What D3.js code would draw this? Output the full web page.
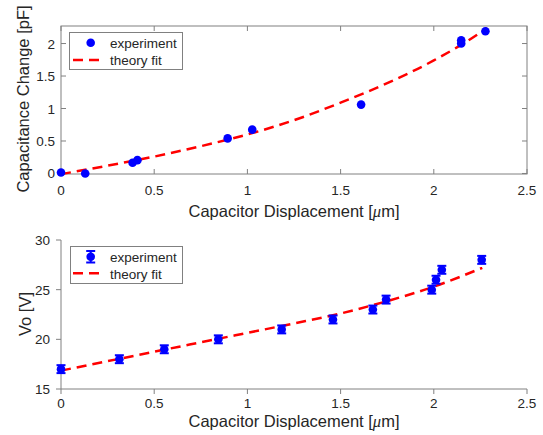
<!DOCTYPE html>
<html><head><meta charset="utf-8">
<script src="https://cdn.jsdelivr.net/npm/d3@7"></script>
<style>
body{margin:0;background:#fff;}
text{font-family:"Liberation Sans",Arial,Helvetica,sans-serif;fill:#262626;}
</style></head>
<body><svg id="c" width="543" height="435"></svg>
<script>
// ---- data ----
const xTicks = [0, 0.5, 1, 1.5, 2, 2.5];
const capTicks = [0, 0.5, 1, 1.5, 2];
const voTicks = [15, 20, 25, 30];

const capX = [0, 0.13, 0.384, 0.41, 0.894, 1.026, 1.61, 2.147, 2.147, 2.277];
const capY = [0.015, 0.0, 0.165, 0.205, 0.54, 0.675, 1.06, 2.0, 2.05, 2.19];
const capFitX = [0, 0.25, 0.5, 0.75, 1.0, 1.25, 1.5, 1.75, 2.0, 2.25, 2.285];
const capFitY = [-0.01, 0.12, 0.26, 0.42, 0.60, 0.82, 1.09, 1.39, 1.74, 2.17, 2.24];

const voX = [0, 0.313, 0.554, 0.844, 1.184, 1.459, 1.673, 1.744, 1.989, 2.012, 2.043, 2.257];
const voY = [17, 18, 19, 20, 21, 22, 23, 24, 25, 26, 27, 28];
const voErr = [0.4, 0.4, 0.4, 0.4, 0.4, 0.4, 0.4, 0.4, 0.4, 0.4, 0.4, 0.4];
const voFitX = [0, 0.25, 0.5, 0.75, 1.0, 1.25, 1.5, 1.75, 2.0, 2.26];
const voFitY = [16.85, 17.8, 18.75, 19.7, 20.65, 21.6, 22.6, 23.85, 25.3, 27.2];

const legendLabels = ["experiment", "theory fit"];

const svg = d3.select("#c");
const axisCol = "#808080";
const blue = "#0000ff", red = "#ff0000";
const tickFont = 13.5, labelFont = 16.5;

function xLabel(g, x, y) {
  const t = g.append("text").attr("x", x).attr("y", y).attr("text-anchor", "middle")
    .attr("font-size", labelFont);
  t.append("tspan").text("Capacitor Displacement [");
  t.append("tspan").attr("font-style", "italic").attr("font-family", "Liberation Serif, serif").text("\u03bc");
  t.append("tspan").text("m]");
}

// ---- top plot ----
const x1 = d3.scaleLinear().domain([0, 2.5]).range([61, 527]);
const y1 = d3.scaleLinear().domain([-0.008, 2.27]).range([174, 26]);
const g1 = svg.append("g");

g1.append("rect").attr("x", 61).attr("y", 26).attr("width", 466).attr("height", 148)
  .attr("fill", "none").attr("stroke", axisCol).attr("stroke-width", 1);
const tl = 5;
xTicks.forEach(v => {
  const px = x1(v);
  g1.append("line").attr("x1", px).attr("x2", px).attr("y1", 174).attr("y2", 174 - tl).attr("stroke", axisCol);
  g1.append("line").attr("x1", px).attr("x2", px).attr("y1", 26).attr("y2", 26 + tl).attr("stroke", axisCol);
  g1.append("text").attr("x", px).attr("y", 195).attr("text-anchor", "middle").attr("font-size", tickFont).text(v);
});
capTicks.forEach(v => {
  const py = y1(v);
  g1.append("line").attr("x1", 61).attr("x2", 61 + tl).attr("y1", py).attr("y2", py).attr("stroke", axisCol);
  g1.append("line").attr("x1", 527).attr("x2", 527 - tl).attr("y1", py).attr("y2", py).attr("stroke", axisCol);
  g1.append("text").attr("x", 55).attr("y", py + 5).attr("text-anchor", "end").attr("font-size", tickFont).text(v);
});
xLabel(g1, 294, 217);
g1.append("text").attr("transform", "translate(29,99) rotate(-90)").attr("text-anchor", "middle")
  .attr("font-size", labelFont).text("Capacitance Change [pF]");

const line1 = d3.line().x(d => x1(d[0])).y(d => y1(d[1])).curve(d3.curveMonotoneX);
g1.append("path").datum(d3.zip(capFitX, capFitY)).attr("d", line1)
  .attr("fill", "none").attr("stroke", red).attr("stroke-width", 2.5).attr("stroke-dasharray", "10,6");
g1.selectAll("circle.p").data(d3.zip(capX, capY)).join("circle")
  .attr("cx", d => x1(d[0])).attr("cy", d => y1(d[1])).attr("r", 4.3).attr("fill", blue);

g1.append("rect").attr("x", 69.5).attr("y", 32.5).attr("width", 113).attr("height", 37)
  .attr("fill", "#fff").attr("stroke", axisCol);
g1.append("circle").attr("cx", 90.7).attr("cy", 42.7).attr("r", 4.3).attr("fill", blue);
g1.append("line").attr("x1", 73).attr("x2", 100).attr("y1", 60).attr("y2", 60)
  .attr("stroke", red).attr("stroke-width", 2.5).attr("stroke-dasharray", "10,6");
g1.append("text").attr("x", 110).attr("y", 47.5).attr("font-size", tickFont).text(legendLabels[0]);
g1.append("text").attr("x", 110).attr("y", 65).attr("font-size", tickFont).text(legendLabels[1]);

// ---- bottom plot ----
const x2 = d3.scaleLinear().domain([0, 2.5]).range([61, 527]);
const y2 = d3.scaleLinear().domain([15, 30]).range([389, 240]);
const g2 = svg.append("g");
g2.append("line").attr("x1", 61).attr("x2", 61).attr("y1", 240).attr("y2", 389).attr("stroke", axisCol);
g2.append("line").attr("x1", 61).attr("x2", 527).attr("y1", 389).attr("y2", 389).attr("stroke", axisCol);
xTicks.forEach(v => {
  const px = x2(v);
  g2.append("line").attr("x1", px).attr("x2", px).attr("y1", 389).attr("y2", 389 + tl).attr("stroke", axisCol);
  g2.append("text").attr("x", px).attr("y", 408).attr("text-anchor", "middle").attr("font-size", tickFont).text(v);
});
voTicks.forEach(v => {
  const py = y2(v);
  g2.append("line").attr("x1", 61).attr("x2", 61 - tl).attr("y1", py).attr("y2", py).attr("stroke", axisCol);
  g2.append("text").attr("x", 50).attr("y", py + 5).attr("text-anchor", "end").attr("font-size", tickFont).text(v);
});
xLabel(g2, 294, 427);
g2.append("text").attr("transform", "translate(31,314) rotate(-90)").attr("text-anchor", "middle")
  .attr("font-size", labelFont).text("Vo [V]");

const line2 = d3.line().x(d => x2(d[0])).y(d => y2(d[1])).curve(d3.curveMonotoneX);
g2.append("path").datum(d3.zip(voFitX, voFitY)).attr("d", line2)
  .attr("fill", "none").attr("stroke", red).attr("stroke-width", 2.5).attr("stroke-dasharray", "10,6");

function errMarker(g, cx, cyTop, cy, cyBot) {
  g.append("line").attr("x1", cx).attr("x2", cx).attr("y1", cyTop).attr("y2", cyBot).attr("stroke", blue).attr("stroke-width", 2);
  g.append("line").attr("x1", cx - 4.5).attr("x2", cx + 4.5).attr("y1", cyTop).attr("y2", cyTop).attr("stroke", blue).attr("stroke-width", 2);
  g.append("line").attr("x1", cx - 4.5).attr("x2", cx + 4.5).attr("y1", cyBot).attr("y2", cyBot).attr("stroke", blue).attr("stroke-width", 2);
  g.append("circle").attr("cx", cx).attr("cy", cy).attr("r", 4.3).attr("fill", blue);
}
voX.forEach((xv, i) => {
  errMarker(g2, x2(xv), y2(voY[i] + voErr[i]), y2(voY[i]), y2(voY[i] - voErr[i]));
});

g2.append("rect").attr("x", 70.5).attr("y", 246.5).attr("width", 112).attr("height", 37)
  .attr("fill", "#fff").attr("stroke", axisCol);
errMarker(g2, 90.7, 251, 256.7, 262.5);
g2.append("line").attr("x1", 73).attr("x2", 100).attr("y1", 273.3).attr("y2", 273.3)
  .attr("stroke", red).attr("stroke-width", 2.5).attr("stroke-dasharray", "10,6");
g2.append("text").attr("x", 110).attr("y", 261.5).attr("font-size", tickFont).text(legendLabels[0]);
g2.append("text").attr("x", 110).attr("y", 278.5).attr("font-size", tickFont).text(legendLabels[1]);
</script></body></html>
